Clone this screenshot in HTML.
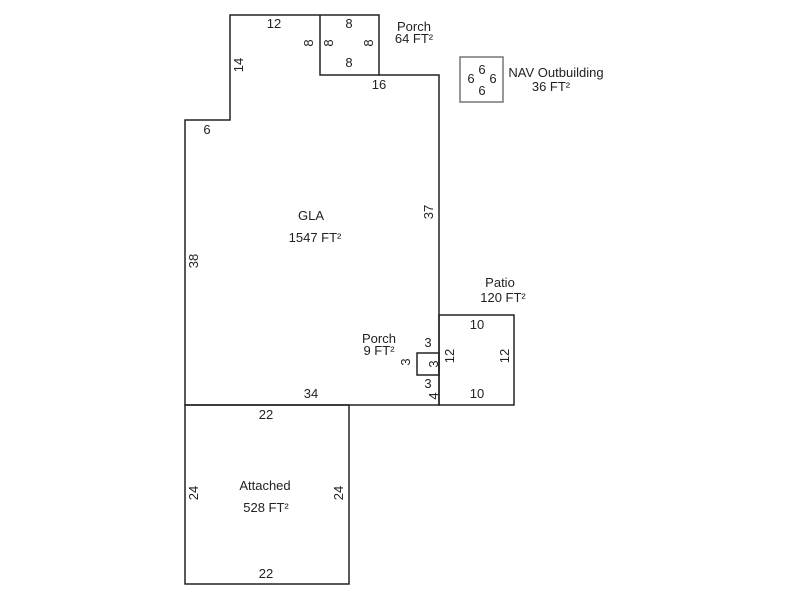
<!DOCTYPE html>
<html><head><style>body{margin:0;background:#fff}svg{display:block}text{font-family:"Liberation Sans",Arial,sans-serif;font-size:13px;fill:#222}</style></head>
<body>
<svg width="800" height="600" viewBox="0 0 800 600" xmlns="http://www.w3.org/2000/svg">
<g fill="none" stroke="#222" stroke-width="1.5">
<path d="M230,15 H379 V75 H439 V405 H185 V120 H230 Z"/>
<path d="M320,15 V75 H379"/>
<rect x="439" y="315" width="75" height="90"/>
<rect x="417" y="353" width="22" height="22"/>
<rect x="185" y="405" width="164" height="179"/>
</g>
<rect x="460" y="57" width="43" height="45" fill="none" stroke="#777" stroke-width="1.5"/>
<g text-anchor="middle">
<text x="274" y="28">12</text>
<text x="349" y="28">8</text>
<text x="349" y="67">8</text>
<text x="414" y="31">Porch</text>
<text x="414" y="43">64 FT²</text>
<text x="379" y="89">16</text>
<text x="207" y="134">6</text>
<text x="482" y="74">6</text>
<text x="471" y="83">6</text>
<text x="493" y="83">6</text>
<text x="482" y="95">6</text>
<text x="556" y="77">NAV Outbuilding</text>
<text x="551" y="91">36 FT²</text>
<text x="311" y="220">GLA</text>
<text x="315" y="242">1547 FT²</text>
<text x="500" y="287">Patio</text>
<text x="503" y="302">120 FT²</text>
<text x="477" y="329">10</text>
<text x="477" y="398">10</text>
<text x="379" y="343">Porch</text>
<text x="379" y="355">9 FT²</text>
<text x="428" y="347">3</text>
<text x="428" y="388">3</text>
<text x="311" y="398">34</text>
<text x="266" y="419">22</text>
<text x="265" y="490">Attached</text>
<text x="266" y="512">528 FT²</text>
<text x="266" y="578">22</text>
<text transform="translate(243,65) rotate(-90)">14</text>
<text transform="translate(313,43) rotate(-90)">8</text>
<text transform="translate(333,43) rotate(-90)">8</text>
<text transform="translate(373,43) rotate(-90)">8</text>
<text transform="translate(198,261) rotate(-90)">38</text>
<text transform="translate(433,212) rotate(-90)">37</text>
<text transform="translate(410,362) rotate(-90)">3</text>
<text transform="translate(438,364) rotate(-90)">3</text>
<text transform="translate(454,356) rotate(-90)">12</text>
<text transform="translate(509,356) rotate(-90)">12</text>
<text transform="translate(438,396) rotate(-90)">4</text>
<text transform="translate(198,493) rotate(-90)">24</text>
<text transform="translate(343,493) rotate(-90)">24</text>
</g>
</svg>
</body></html>
